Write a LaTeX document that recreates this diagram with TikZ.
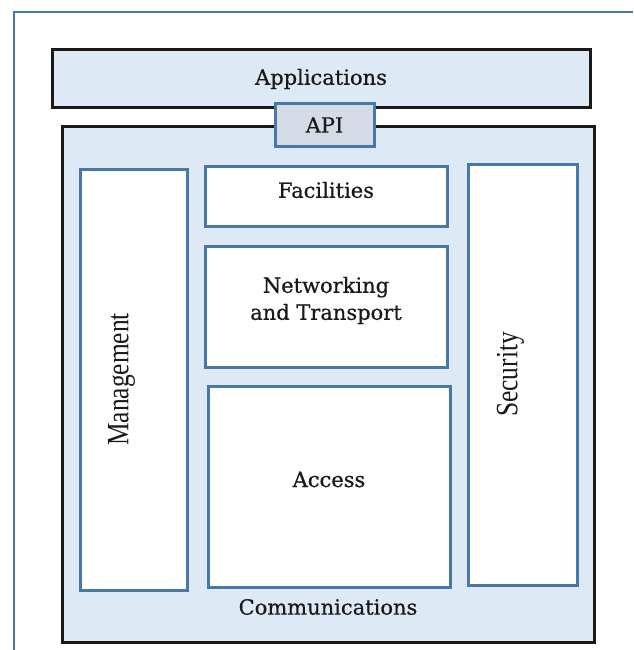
\documentclass[tikz,border=0pt]{standalone}
\usepackage{fontspec}
\setmainfont{DejaVu Serif}[FakeBold=0.6]
\newfontfamily\timesfont{Liberation Serif}

\definecolor{paleblue}{RGB}{222,233,246}
\definecolor{edgeblue}{RGB}{72,120,168}
\definecolor{apigray}{RGB}{212,219,230}
\definecolor{inkgray}{RGB}{25,25,25}

\tikzstyle{layer} = [rectangle, draw=black!90, line width=3pt, fill=paleblue, inner sep=0pt]
\tikzstyle{block} = [rectangle, draw=edgeblue, line width=3pt, fill=white, inner sep=0pt]
\tikzstyle{apibox} = [rectangle, draw=edgeblue, line width=3pt, fill=apigray, inner sep=0pt, minimum width=99pt, minimum height=42pt]
\tikzstyle{lbl} = [text=inkgray, font=\fontsize{21}{27}\selectfont, align=center, inner sep=0pt]
\tikzstyle{vlbl} = [text=inkgray, font=\timesfont\fontsize{31}{31}\selectfont, rotate=90, xscale=0.82, inner sep=0pt]

\begin{document}
\begin{tikzpicture}[x=1pt, y=-1pt]
\useasboundingbox (0,0) rectangle (633,650);

% frame
\draw [edgeblue, line width=2.5pt] (14,650) -- (14,12) -- (633,12);

\node (apps) [layer, minimum width=538pt, minimum height=58pt] at (321,79) {};
\node (comm) [layer, minimum width=532pt, minimum height=515pt] at (328,384.5) {};
\node (api) [apibox] at (324.5,125) {};

\node (mgmt) [block, minimum width=107pt, minimum height=421pt] at (133.5,379.5) {};
\node (fac) [block, minimum width=242pt, minimum height=60pt] at (326,196) {};
\node (net) [block, minimum width=242pt, minimum height=121pt] at (326,306.5) {};
\node (acc) [block, minimum width=242pt, minimum height=201pt] at (329,486.5) {};
\node (sec) [block, minimum width=109pt, minimum height=421pt] at (522.5,374.5) {};

% labels
\node (appstext) [lbl] at (apps.center) {Applications};
\node (apitext) [lbl] at (api.center) {API};
\node (factext) [lbl] at ([yshift=6pt]fac.center) {Facilities};
\node (nettext) [lbl] at ([yshift=6pt]net.center) {Networking\\and Transport};
\node (acctext) [lbl] at ([yshift=7pt]acc.center) {Access};
\node (commtext) [lbl] at (328,607) {Communications};
\node (mgmttext) [vlbl] at ([xshift=-12pt]mgmt.center) {Management};
\node (sectext) [vlbl] at ([xshift=-12pt]sec.center) {Security};

\end{tikzpicture}
\end{document}
